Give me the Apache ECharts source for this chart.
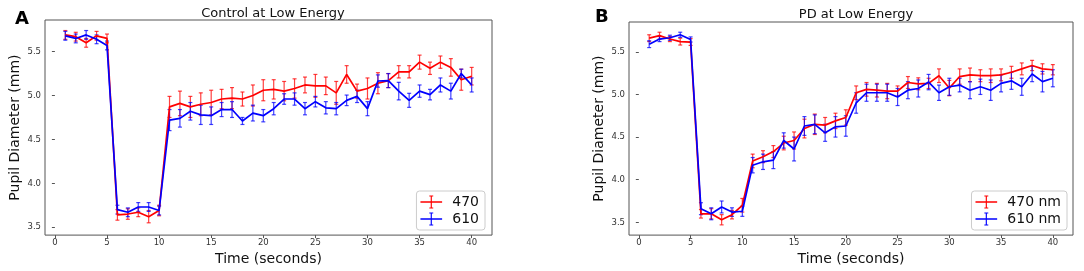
<!DOCTYPE html>
<html>
<head>
<meta charset="utf-8">
<script src="https://cdn.jsdelivr.net/npm/echarts@6/dist/echarts.min.js"></script>
<style>
html,body{margin:0;padding:0;background:#fff;}
#chart{width:1084px;height:271px;}
</style>
</head>
<body>
<div id="chart"></div>
<script>
// ---- data ----
const times = [1,2,3,4,5,6,7,8,9,10,11,12,13,14,15,16,17,18,19,20,21,22,23,24,25,26,27,28,29,30,31,32,33,34,35,36,37,38,39,40];
const xTicks = [0,5,10,15,20,25,30,35,40];
const yTicks = [3.5,4.0,4.5,5.0,5.5];

const ctrl470 = [5.69,5.67,5.60,5.68,5.65, 3.64,3.65,3.67,3.62,3.69, 4.87,4.91,4.87,4.90,4.92,4.96,4.97,4.96,5.00,5.06, 5.07,5.05,5.08,5.12,5.11,5.11,5.03,5.24,5.05,5.08, 5.14,5.17,5.27,5.27,5.38,5.31,5.38,5.32,5.18,5.22];
const ctrl470Err = [0.05,0.05,0.05,0.05,0.05, 0.06,0.06,0.05,0.07,0.06, 0.12,0.14,0.12,0.13,0.14,0.11,0.12,0.08,0.12,0.12, 0.11,0.11,0.11,0.09,0.13,0.10,0.13,0.10,0.08,0.12, 0.12,0.08,0.07,0.07,0.08,0.07,0.07,0.10,0.12,0.10];
const ctrl610 = [5.68,5.65,5.69,5.64,5.57, 3.70,3.67,3.73,3.73,3.69, 4.72,4.74,4.82,4.78,4.77,4.84,4.84,4.71,4.80,4.77, 4.85,4.96,4.96,4.85,4.93,4.86,4.85,4.945,4.99,4.85, 5.165,5.17,5.05,4.945,5.05,5.01,5.12,5.05,5.25,5.12];
const ctrl610Err = [0.05,0.05,0.05,0.05,0.05, 0.05,0.05,0.05,0.05,0.05, 0.12,0.10,0.10,0.11,0.10,0.08,0.09,0.04,0.09,0.07, 0.07,0.06,0.07,0.07,0.06,0.07,0.07,0.06,0.07,0.08, 0.07,0.08,0.10,0.08,0.07,0.06,0.08,0.09,0.05,0.08];

const pd470 = [5.66,5.69,5.65,5.62,5.615, 3.60,3.60,3.53,3.59,3.70, 4.22,4.27,4.33,4.43,4.46,4.60,4.65,4.64,4.69,4.73, 5.02,5.06,5.05,5.04,5.04,5.14,5.125,5.13,5.22,5.075, 5.21,5.23,5.22,5.22,5.23,5.26,5.30,5.34,5.30,5.29];
const pd470Err = [0.04,0.04,0.03,0.04,0.04, 0.05,0.06,0.06,0.05,0.08, 0.08,0.07,0.07,0.08,0.10,0.11,0.12,0.09,0.09,0.09, 0.08,0.08,0.08,0.09,0.06,0.07,0.07,0.06,0.08,0.09, 0.09,0.08,0.07,0.08,0.07,0.07,0.07,0.06,0.06,0.06];
const pd610 = [5.59,5.65,5.665,5.70,5.645, 3.66,3.60,3.68,3.62,3.63, 4.17,4.21,4.23,4.46,4.36,4.63,4.65,4.55,4.62,4.63, 4.90,5.02,5.02,5.02,4.97,5.05,5.07,5.145,5.02,5.09, 5.11,5.05,5.09,5.05,5.13,5.16,5.09,5.24,5.15,5.19];
const pd610Err = [0.04,0.03,0.03,0.03,0.03, 0.07,0.07,0.07,0.05,0.06, 0.09,0.09,0.10,0.09,0.14,0.11,0.11,0.10,0.12,0.12, 0.12,0.10,0.10,0.10,0.10,0.10,0.10,0.09,0.09,0.10, 0.08,0.10,0.09,0.12,0.10,0.10,0.10,0.09,0.12,0.10];

// ---- build ----
const RED = '#ff0000', BLUE = '#0000ff';
const FONT = 'DejaVu Sans';
const chart = echarts.init(document.getElementById('chart'), null, {renderer: 'canvas'});

function pts(vals){ return times.map((t,i)=>[t, vals[i]]); }
function errs(vals, e){ return times.map((t,i)=>[t, vals[i]-e[i], vals[i]+e[i]]); }

function errSeries(name, vals, e, color, idx){
  return {
    type: 'custom', name: name, xAxisIndex: idx, yAxisIndex: idx, z: 3,
    data: errs(vals, e),
    encode: {x: 0, y: [1, 2]},
    itemStyle: {color: color},
    silent: true,
    renderItem: function(params, api){
      const x = api.value(0);
      const lo = api.coord([x, api.value(1)]);
      const hi = api.coord([x, api.value(2)]);
      const cw = 2;
      const st = {stroke: color, lineWidth: 1.2, opacity: 0.75};
      return {type: 'group', children: [
        {type: 'line', shape: {x1: lo[0], y1: lo[1], x2: hi[0], y2: hi[1]}, style: st},
        {type: 'line', shape: {x1: lo[0]-cw, y1: lo[1], x2: lo[0]+cw, y2: lo[1]}, style: st},
        {type: 'line', shape: {x1: hi[0]-cw, y1: hi[1], x2: hi[0]+cw, y2: hi[1]}, style: st}
      ]};
    }
  };
}
function lineSeries(name, vals, color, idx){
  return {
    type: 'line', name: name, xAxisIndex: idx, yAxisIndex: idx, z: 4,
    data: pts(vals), showSymbol: false, symbol: 'none',
    lineStyle: {color: color, width: 1.7}, itemStyle: {color: color},
    animation: false
  };
}

const icon = 'path://M0,9 L30,9 L30,11.2 L0,11.2 Z M14.2,1 L15.8,1 L15.8,19 L14.2,19 Z M12.3,1 L17.7,1 L17.7,2.4 L12.3,2.4 Z M12.3,17.6 L17.7,17.6 L17.7,19 L12.3,19 Z';

function xAxis(idx){
  return {
    type: 'value', gridIndex: idx, min: -0.95, max: 41.95,
    name: 'Time (seconds)', nameLocation: 'middle', nameGap: 14,
    nameTextStyle: {fontFamily: FONT, fontSize: 14, color: '#111'},
    axisLine: {show: false},
    axisTick: {show: true, length: 3, lineStyle: {color: '#555'}, customValues: xTicks},
    axisLabel: {fontFamily: FONT, fontSize: 8.5, color: '#333', margin: 3, customValues: xTicks},
    splitLine: {show: false}
  };
}
function yAxis(idx, min, max){
  return {
    type: 'value', gridIndex: idx, min: min, max: max,
    name: 'Pupil Diameter (mm)', nameLocation: 'middle', nameGap: 23,
    nameTextStyle: {fontFamily: FONT, fontSize: 14, color: '#111'},
    axisLine: {show: false},
    axisTick: {show: true, length: 3, lineStyle: {color: '#555'}, customValues: yTicks},
    axisLabel: {fontFamily: FONT, fontSize: 8.5, color: '#333', margin: 4, customValues: yTicks,
      formatter: v => v.toFixed(1)},
    splitLine: {show: false}
  };
}
function legend(names, right){
  return {
    data: names, orient: 'vertical', right: right, bottom: 41,
    icon: icon, itemWidth: 28, itemHeight: 13, itemGap: 3,
    itemStyle: {borderWidth: 0},
    textStyle: {fontFamily: FONT, fontSize: 14, color: '#111', padding: [0,0,0,2]},
    backgroundColor: '#fff', borderColor: '#ccc', borderWidth: 1, borderRadius: 3,
    padding: [4, 6, 4, 4], selectedMode: false
  };
}

chart.setOption({
  animation: false,
  backgroundColor: '#fff',
  title: [
    {text: 'Control at Low Energy', left: 268, top: 2, textAlign: 'center',
      textStyle: {fontFamily: FONT, fontSize: 13, fontWeight: 'normal', color: '#111'}},
    {text: 'PD at Low Energy', left: 851, top: 3, textAlign: 'center',
      textStyle: {fontFamily: FONT, fontSize: 13, fontWeight: 'normal', color: '#111'}},
    {text: 'A', left: 10, top: 5, textStyle: {fontFamily: FONT, fontSize: 18, fontWeight: 'bold', color: '#000'}},
    {text: 'B', left: 590, top: 3, textStyle: {fontFamily: FONT, fontSize: 18, fontWeight: 'bold', color: '#000'}}
  ],
  grid: [
    {left: 45, top: 20, width: 447, height: 217, show: true, borderColor: '#555', borderWidth: 1, backgroundColor: '#fff'},
    {left: 629, top: 22, width: 444, height: 215, show: true, borderColor: '#555', borderWidth: 1, backgroundColor: '#fff'}
  ],
  xAxis: [xAxis(0), xAxis(1)],
  yAxis: [yAxis(0, 3.41, 5.86), yAxis(1, 3.35, 5.85)],
  legend: [legend(['470','610'], 1084-485), legend(['470 nm','610 nm'], 1084-1067)],
  series: [
    errSeries('470', ctrl470, ctrl470Err, RED, 0),
    lineSeries('470', ctrl470, RED, 0),
    errSeries('610', ctrl610, ctrl610Err, BLUE, 0),
    lineSeries('610', ctrl610, BLUE, 0),
    errSeries('470 nm', pd470, pd470Err, RED, 1),
    lineSeries('470 nm', pd470, RED, 1),
    errSeries('610 nm', pd610, pd610Err, BLUE, 1),
    lineSeries('610 nm', pd610, BLUE, 1)
  ]
});
</script>
</body>
</html>
